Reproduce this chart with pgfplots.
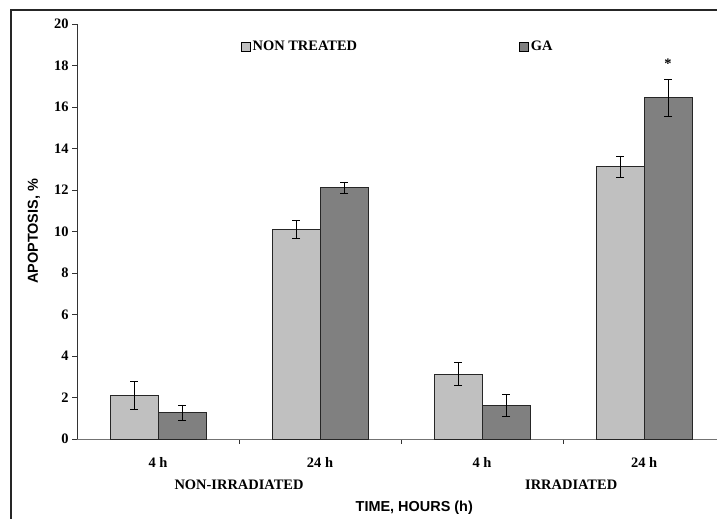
\documentclass[border=0pt]{standalone}
\usepackage{fontspec}
\setmainfont{Liberation Serif}
\setsansfont{Liberation Sans}
\usepackage{pgfplots}
\pgfplotsset{compat=1.18}
\definecolor{lightbar}{HTML}{C0C0C0}
\definecolor{darkbar}{HTML}{808080}
\newcommand{\lbl}{\bfseries\fontsize{14.5}{16}\selectfont}
\pgfplotsset{myerr/.style={error bars/.cd, y dir=both, y explicit,
 error mark options={rotate=90, mark size=4bp, black, line width=0.8pt},
 error bar style={black, line width=0.8pt}}}
\begin{document}
\begin{tikzpicture}[x=1bp,y=1bp]
\useasboundingbox (0,0) rectangle (717,519);
\draw[line width=1.5bp, black!85] (11,0) -- (11,509) -- (717,509);
\begin{axis}[
 at={(77bp,80bp)}, anchor=south west,
 scale only axis, width=640bp, height=415bp,
 ybar=0pt, bar width=48bp,
 xmin=-0.5, xmax=3.45, ymin=0, ymax=20,
 axis x line=bottom, axis y line=left,
 axis line style={-},
 x axis line style={black!55},
 y axis line style={black!80},
 clip=false,
 ytick={0,2,...,20},
 xtick={0,1,2,3}, xticklabels={4 h,24 h,4 h,24 h},
 minor xtick={0.5,1.5,2.5},
 major x tick style={draw=none},
 tick align=outside,
 major tick length=5bp, minor tick length=5bp,
 tick style={black!80, line width=0.8pt},
 /pgf/number format/assume math mode=true,
 ticklabel style={font=\lbl},
 xticklabel style={yshift=-10bp},
 ylabel={APOPTOSIS, \%},
 ylabel style={font=\sffamily\bfseries\fontsize{14.5}{16}\selectfont, at={(axis description cs:-0.06719,0.5)}, anchor=center},
 xlabel={TIME, HOURS (h)},
 xlabel style={font=\sffamily\bfseries\fontsize{14.5}{16}\selectfont, at={(axis description cs:0.527,-0.166)}, anchor=center},
 legend style={draw=none, fill=none, at={(rel axis cs:0.251,0.945)}, anchor=west, legend columns=2, font=\lbl, /tikz/every even column/.append style={column sep=160bp}},
 legend image code/.code={\draw[#1,draw=black] (0bp,-4.5bp) rectangle (9bp,4.5bp);},
]
\addplot[fill=lightbar, draw=black!85, line width=0.8pt, myerr] coordinates {
 (0,2.09) +- (0,0.67)
 (1,10.10) +- (0,0.43)
 (2,3.13) +- (0,0.54)
 (3,13.12) +- (0,0.52)
};
\addplot[fill=darkbar, draw=black!85, line width=0.8pt, myerr] coordinates {
 (0,1.27) +- (0,0.37)
 (1,12.11) +- (0,0.27)
 (2,1.62) +- (0,0.52)
 (3,16.45) +- (0,0.88)
};
\legend{NON TREATED, GA}
\node[font=\lbl] at (axis cs:3.148,18.1) {*};
\node[font=\lbl] at (axis cs:0.5,-2.217) {NON-IRRADIATED};
\node[font=\lbl] at (axis cs:2.55,-2.217) {IRRADIATED};
\end{axis}
\end{tikzpicture}
\end{document}
